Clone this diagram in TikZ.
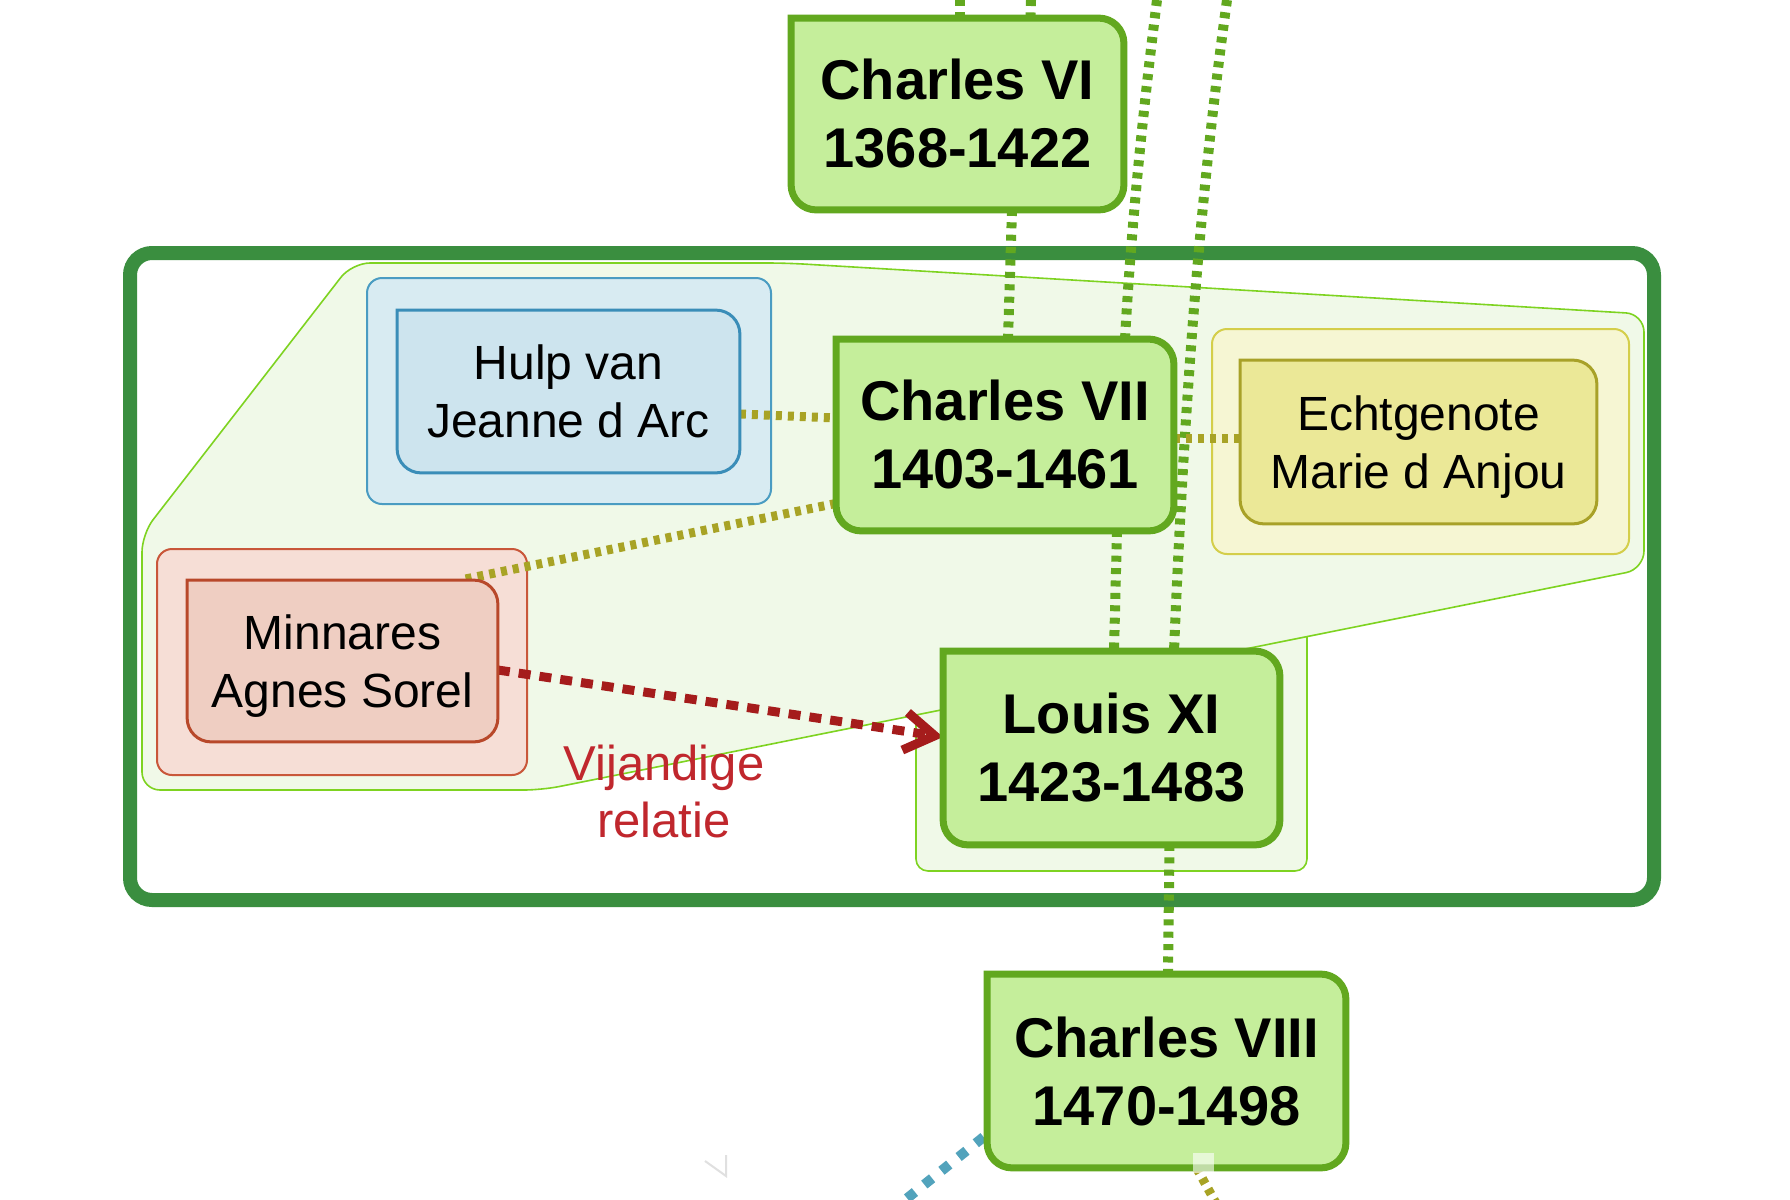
\documentclass[tikz,border=0pt]{standalone}
\usepackage{fontspec}
\setmainfont{Liberation Sans}
\usetikzlibrary{calc,arrows.meta}
\pgfdeclarelayer{bg}\pgfdeclarelayer{edges}\pgfdeclarelayer{boxes}
\pgfsetlayers{bg,edges,boxes,main}
\definecolor{kfill}{HTML}{C5EE9B}
\definecolor{kline}{HTML}{62A81F}
\definecolor{framegreen}{HTML}{3A8E3F}
\definecolor{hullfill}{HTML}{F0F9E8}
\definecolor{hullline}{HTML}{7ED321}
\definecolor{bgfill}{HTML}{D8EBF2}
\definecolor{bgline}{HTML}{4A9CC2}
\definecolor{bifill}{HTML}{CDE4EE}
\definecolor{biline}{HTML}{3A8DB8}
\definecolor{ygfill}{HTML}{F6F6D3}
\definecolor{ygline}{HTML}{D4CE4A}
\definecolor{yifill}{HTML}{EBE897}
\definecolor{yiline}{HTML}{A8A128}
\definecolor{rgfill}{HTML}{F6DED6}
\definecolor{rgline}{HTML}{C9573A}
\definecolor{rifill}{HTML}{EFCEC2}
\definecolor{riline}{HTML}{B8482A}
\definecolor{oliveedge}{HTML}{A8A325}
\definecolor{redge}{HTML}{A51C1C}
\definecolor{lblred}{HTML}{C0272D}
\definecolor{tealedge}{HTML}{52A3BC}
\newcommand\tlsharpbox[3]{%
  \path[#2] let \p1=(#1.north west), \p2=(#1.south east) in
   (\x1,\y1) -- (\x2-#3,\y1) .. controls (\x2-0.448*#3,\y1) and (\x2,\y1-0.448*#3) .. (\x2,\y1-#3)
   -- (\x2,\y2+#3) .. controls (\x2,\y2+0.448*#3) and (\x2-0.448*#3,\y2) .. (\x2-#3,\y2)
   -- (\x1+#3,\y2) .. controls (\x1+0.448*#3,\y2) and (\x1,\y2+0.448*#3) .. (\x1,\y2+#3)
   -- cycle;}
\newcommand\nodepth[1]{\raisebox{0pt}[\height][0pt]{#1}}
\tikzset{
  gtxt/.style={font=\fontsize{28pt}{34pt}\selectfont\bfseries, align=center, inner sep=0pt},
  rtxt/.style={font=\fontsize{24pt}{29pt}\selectfont, align=center, inner sep=0pt},
  kingbox/.style={draw=kline, fill=kfill, line width=3.5pt},
  blueinner/.style={draw=biline, fill=bifill, line width=1.5pt},
  yelinner/.style={draw=yiline, fill=yifill, line width=1.5pt},
  redinner/.style={draw=riline, fill=rifill, line width=1.5pt},
  grpbox/.style={inner sep=0pt, line width=1pt, rounded corners=7.5pt},
  bluegrp/.style={grpbox, draw=bgline, fill=bgfill},
  yelgrp/.style={grpbox, draw=ygline, fill=ygfill},
  redgrp/.style={grpbox, draw=rgline, fill=rgfill},
  hullgrp/.style={draw=hullline, fill=hullfill, line width=0.8pt},
  bigframe/.style={draw=framegreen, line width=7pt, rounded corners=11pt},
  gdot/.style={draw=kline, line width=5pt, dash pattern=on 3pt off 3.2pt},
  odot/.style={draw=oliveedge, line width=4.5pt, dash pattern=on 3pt off 3pt},
  rdash/.style={draw=redge, line width=4.5pt, dash pattern=on 6pt off 4.5pt,
    -{Straight Barb[length=15pt,width=19pt]}},
  tdot/.style={draw=tealedge, line width=5pt, dash pattern=on 5pt off 6pt},
}
\begin{document}
\begin{tikzpicture}[x=0.5pt,y=-0.5pt]
\useasboundingbox (0,0) rectangle (1790,1200);
\clip (0,0) rectangle (1790,1200);

% text nodes
\node[gtxt, minimum width=166pt, minimum height=95.5pt] (vi) at (957.5,114) {Charles VI\\1368-1422};
\node[gtxt, minimum width=168.5pt, minimum height=95.5pt] (vii) at (1005,435) {Charles VII\\1403-1461};
\node[gtxt, minimum width=168pt, minimum height=96.5pt] (lxi) at (1111.5,748) {Louis XI\\1423-1483};
\node[gtxt, minimum width=179pt, minimum height=96.5pt] (viii) at (1166.5,1071) {Charles VIII\\1470-1498};
\node[rtxt, minimum width=171pt, minimum height=81pt] (hulp) at (568.5,391.5) {Hulp van\\Jeanne d Arc};
\node[rtxt, minimum width=178pt, minimum height=81.5pt] (echt) at (1418.5,442) {Echtgenote\\\nodepth{Marie d Anjou}};
\node[rtxt, minimum width=155pt, minimum height=80.5pt] (minn) at (342.5,661) {Minnares\\\nodepth{Agnes Sorel}};
\node[font=\fontsize{24.5pt}{28.5pt}\selectfont, text=lblred, align=center, inner sep=0pt] (lbl) at (664,791) {Vijandige\\relatie};

\begin{pgfonlayer}{bg}
  \fill[white] (0,0) rectangle (1790,1200);
  \draw[bigframe] (130,253) rectangle (1654,900);
  \node[hullgrp, inner sep=0pt, rounded corners=6pt, minimum width=195.5pt, minimum height=123pt] (lgrp) at (1111.5,748) {};
  \draw[hullgrp, rounded corners=9pt] (352,263) -- (786,263) -- (1644,314) -- (1644,569) -- (542,790) -- (142,790) -- (142,534) -- cycle;
  \node[bluegrp, minimum width=202pt, minimum height=113pt] (hgrp) at (569,391) {};
  \node[yelgrp, minimum width=208.5pt, minimum height=112.5pt] (egrp) at (1420.5,441.5) {};
  \node[redgrp, minimum width=185pt, minimum height=113pt] (mgrp) at (342,662) {};
\end{pgfonlayer}

\begin{pgfonlayer}{boxes}
  \tlsharpbox{vi}{kingbox}{12.5pt}
  \tlsharpbox{vii}{kingbox}{12.5pt}
  \tlsharpbox{lxi}{kingbox}{12.5pt}
  \tlsharpbox{viii}{kingbox}{12.5pt}
  \tlsharpbox{hulp}{blueinner}{12pt}
  \tlsharpbox{echt}{yelinner}{12pt}
  \tlsharpbox{minn}{redinner}{12pt}
\end{pgfonlayer}

\begin{pgfonlayer}{edges}
  \coordinate (t1) at (960,0);
  \coordinate (t2) at (1031,0);
  \coordinate (ta) at (1157,0);
  \coordinate (tb) at (1227,0);
  \coordinate (bt) at (880,1220);
  \coordinate (bo) at (1222.6,1215);
  \draw[gdot] (t1) -- ($(vi.north)+(2.5,0)$);
  \draw[gdot] (t2) -- ($(vi.north)+(73,0)$);
  \draw[gdot] ($(vi.south)+(54.5,0)$) -- ($(vii.north)+(3,0)$);
  \draw[gdot] ($(vii.south)+(112,0)$) -- ($(lxi.north)+(2.5,0)$);
  \draw[gdot] ($(lxi.south)+(58,0)$) -- ($(viii.north)+(1.5,0)$);
  \draw[gdot] (ta) .. controls (1143,110) and (1131,229) .. ($(vii.north)+(120,0)$);
  \draw[gdot] (tb) .. controls (1197,217) and (1183,434) .. ($(lxi.north)+(62.5,0)$);
  \draw[odot] ($(hulp.east)+(0,22.5)$) -- ($(vii.west)+(0,-17)$);
  \draw[odot] ($(vii.east)+(0,3)$) -- ($(echt.west)+(0,-4)$);
  \draw[odot] ($(vii.south west)+(0,-27.5)$) -- ($(minn.north)+(117.5,0)$);
  \draw[rdash] ($(minn.east)+(0,9)$) -- ($(lxi.west)+(0,-11)$);
  \draw[tdot] ($(viii.west)+(-3.5,66)$) -- (bt);
  \draw[odot] ($(viii.south)+(30,0)$) -- (bo);
\end{pgfonlayer}

\fill[white, opacity=0.6] (1193,1153) rectangle (1214,1173);
\draw[black!12, line width=1pt] (705,1161) -- (726,1176) -- (726,1155);
\end{tikzpicture}
\end{document}
